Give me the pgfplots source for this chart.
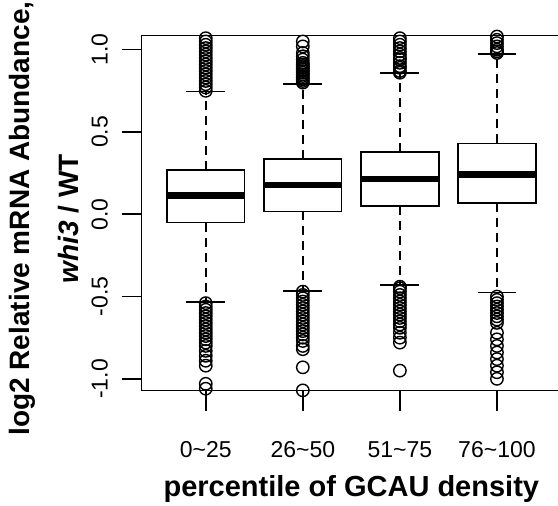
\documentclass[border=0pt]{standalone}
\usepackage{fontspec}
\setmainfont{Liberation Sans}
\usepackage{pgfplots}
\pgfplotsset{compat=1.18}
\usepgfplotslibrary{statistics}

% box, whisker and outlier styles close to R's boxplot()
\pgfplotsset{
  rbox/.style={
    black,
    boxplot/draw direction=y,
    boxplot/box extend=0.8,
    boxplot/whisker extend=0.4,
    boxplot/every box/.style={line width=1.6pt, fill=white},
    boxplot/every median/.style={line width=6.5pt},
    boxplot/draw/lower whisker/.code={%
      \draw[line width=1.6pt, dash pattern=on 9pt off 6pt]
        (boxplot box cs:\pgfplotsboxplotvalue{lower quartile},0.5) --
        (boxplot box cs:\pgfplotsboxplotvalue{lower whisker},0.5);
      \draw[line width=1.6pt]
        (boxplot whisker cs:\pgfplotsboxplotvalue{lower whisker},0) --
        (boxplot whisker cs:\pgfplotsboxplotvalue{lower whisker},1);
    },
    boxplot/draw/upper whisker/.code={%
      \draw[line width=1.6pt, dash pattern=on 9pt off 6pt]
        (boxplot box cs:\pgfplotsboxplotvalue{upper quartile},0.5) --
        (boxplot box cs:\pgfplotsboxplotvalue{upper whisker},0.5);
      \draw[line width=1.6pt]
        (boxplot whisker cs:\pgfplotsboxplotvalue{upper whisker},0) --
        (boxplot whisker cs:\pgfplotsboxplotvalue{upper whisker},1);
    },
  },
  routl/.style={only marks, mark=o, mark size=6.2pt,
    mark options={line width=1.4pt, black}},
}

\begin{document}
\begin{tikzpicture}
\begin{axis}[
  at={(0,0)}, anchor=south west,
  scale only axis, width=419.3pt, height=355pt,
  xmin=0.34, xmax=4.66, ymin=-1.072, ymax=1.085,
  axis line style={line width=1.6pt},
  xtick={1,2,3,4},
  xticklabels={0\textasciitilde 25,26\textasciitilde 50,51\textasciitilde 75,76\textasciitilde 100},
  ytick={-1,-0.5,0,0.5,1},
  yticklabels={-1.0,-0.5,0.0,0.5,1.0},
  xtick pos=bottom, ytick pos=left,
  tick align=outside, major tick length=20pt,
  tick style={line width=1.6pt, black},
  ticklabel style={font=\fontsize{23}{27}\selectfont},
  xticklabel style={anchor=base},
  xticklabel shift=47pt,
  yticklabel style={rotate=90, anchor=base},
  yticklabel shift=14pt,
  xlabel={percentile of GCAU density},
  ylabel={log2 Relative mRNA Abundance,\\\textit{whi3} / WT},
  every axis x label/.style={at={(axis description cs:0.5,0)}, anchor=base,
    yshift=-106.3pt, font=\fontsize{29}{34}\selectfont\bfseries},
  every axis y label/.style={at={(axis description cs:0,0.485)},
    xshift=-132.7pt, rotate=90, anchor=north, inner sep=0pt, align=center,
    font=\fontsize{28}{49}\selectfont\bfseries},
]
\addplot[rbox, boxplot prepared={draw position=1, lower whisker=-0.533,
  lower quartile=-0.051, median=0.113, upper quartile=0.269, upper whisker=0.745}]
  coordinates {};
\addplot[rbox, boxplot prepared={draw position=2, lower whisker=-0.466,
  lower quartile=0.018, median=0.178, upper quartile=0.336, upper whisker=0.790}]
  coordinates {};
\addplot[rbox, boxplot prepared={draw position=3, lower whisker=-0.430,
  lower quartile=0.050, median=0.213, upper quartile=0.377, upper whisker=0.857}]
  coordinates {};
\addplot[rbox, boxplot prepared={draw position=4, lower whisker=-0.476,
  lower quartile=0.070, median=0.243, upper quartile=0.431, upper whisker=0.972}]
  coordinates {};

% outliers
\addplot[routl] table {
x y
1 0.75
1 0.77
1 0.79
1 0.81
1 0.83
1 0.85
1 0.87
1 0.89
1 0.91
1 0.93
1 0.95
1 0.97
1 0.99
1 1.01
1 1.03
1 1.05
1 1.07
1 -0.54
1 -0.56
1 -0.58
1 -0.60
1 -0.62
1 -0.64
1 -0.66
1 -0.68
1 -0.70
1 -0.72
1 -0.74
1 -0.76
1 -0.78
1 -0.80
1 -0.83
1 -0.86
1 -0.89
1 -0.92
1 -1.03
1 -1.06
2 0.80
2 0.81
2 0.82
2 0.83
2 0.84
2 0.85
2 0.86
2 0.87
2 0.88
2 0.89
2 0.90
2 0.91
2 0.92
2 0.94
2 0.96
2 0.98
2 1.02
2 1.05
2 -0.47
2 -0.49
2 -0.51
2 -0.53
2 -0.55
2 -0.57
2 -0.59
2 -0.61
2 -0.63
2 -0.65
2 -0.67
2 -0.69
2 -0.71
2 -0.73
2 -0.75
2 -0.77
2 -0.80
2 -0.82
2 -0.93
2 -1.07
3 0.86
3 0.87
3 0.89
3 0.90
3 0.92
3 0.94
3 0.95
3 0.97
3 0.99
3 1.01
3 1.03
3 1.05
3 1.07
3 -0.44
3 -0.45
3 -0.47
3 -0.49
3 -0.51
3 -0.53
3 -0.55
3 -0.57
3 -0.59
3 -0.61
3 -0.63
3 -0.65
3 -0.67
3 -0.69
3 -0.72
3 -0.75
3 -0.78
3 -0.95
3 -1.09
4 0.98
4 0.99
4 1.00
4 1.02
4 1.04
4 1.06
4 1.08
4 -0.50
4 -0.52
4 -0.54
4 -0.56
4 -0.58
4 -0.60
4 -0.62
4 -0.64
4 -0.66
4 -0.72
4 -0.76
4 -0.80
4 -0.84
4 -0.88
4 -0.92
4 -0.96
4 -1.00
};
\end{axis}
% crop to the reference frame (its right border lies just outside)
\pgfresetboundingbox
\path[use as bounding box] (-141.7pt,-115.3pt) rectangle (416.3pt,390.7pt);
\end{tikzpicture}
\end{document}
